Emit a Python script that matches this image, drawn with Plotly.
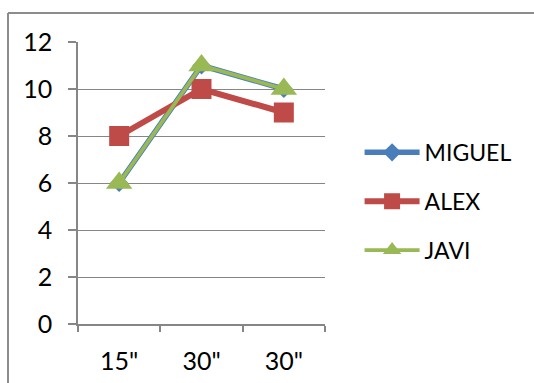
import plotly.graph_objects as go

# Time checkpoints (two share the same label) and each runner's score
categories = ['15"', '30"', '30"']
miguel = [6, 11, 10]
alex = [8, 10, 9]
javi = [6, 11, 10]

positions = list(range(len(categories)))
font_family = "Lato, 'Open Sans', sans-serif"
axis_gray = "#868686"

fig = go.Figure()

series = [
    ("MIGUEL", miguel, "#4A7EBB", 5.5, "diamond", 14),
    ("ALEX", alex, "#BE4B48", 6, "square", 20),
    ("JAVI", javi, "#98B954", 3.8, "triangle-up", 23),
]

for name, values, color, lw, symbol, msize in series:
    fig.add_trace(go.Scatter(
        x=positions,
        y=values,
        name=name,
        legendgroup=name,
        mode="lines+markers",
        line=dict(color=color, width=lw),
        marker=dict(symbol=symbol, size=msize, color=color, line=dict(width=0)),
    ))

fig.update_layout(
    width=534,
    height=383,
    margin=dict(l=78, r=209, t=42, b=59),
    paper_bgcolor="white",
    plot_bgcolor="white",
    font=dict(family=font_family, size=23, color="black"),
    showlegend=True,
    legend=dict(
        x=1.14, xanchor="left",
        y=0.685, yanchor="top",
        font=dict(size=23),
        tracegroupgap=16,
        bgcolor="rgba(0,0,0,0)",
        itemwidth=55,
    ),
    xaxis=dict(
        range=[-0.5, 2.5],
        tickvals=positions,
        ticktext=categories,
        tickfont=dict(size=25),
        ticks="",
        showgrid=False,
        showline=True,
        linecolor=axis_gray,
        linewidth=1.5,
        zeroline=False,
        automargin=False,
        ticklabelstandoff=14,
        minor=dict(
            tickvals=[-0.5, 0.5, 1.5, 2.5],
            ticks="outside",
            ticklen=6,
            tickcolor=axis_gray,
            tickwidth=1.5,
            showgrid=False,
        ),
    ),
    yaxis=dict(
        range=[0, 12],
        tickvals=[0, 2, 4, 6, 8, 10, 12],
        tickfont=dict(size=25),
        ticks="outside",
        ticklen=8,
        tickcolor=axis_gray,
        tickwidth=1.5,
        showgrid=True,
        gridcolor=axis_gray,
        gridwidth=1.3,
        showline=True,
        linecolor=axis_gray,
        linewidth=1.5,
        zeroline=False,
        automargin=False,
        ticklabelstandoff=11,
    ),
    shapes=[
        # chart frame: top and left edges
        dict(type="line", xref="paper", yref="paper",
             x0=-70 / 247, x1=456 / 247, y0=311 / 282, y1=311 / 282,
             line=dict(color="#8C8C8C", width=2)),
        dict(type="line", xref="paper", yref="paper",
             x0=-70 / 247, x1=-70 / 247, y0=311 / 282, y1=-60 / 282,
             line=dict(color="#8C8C8C", width=2)),
    ],
)

fig.write_html("out.html")
